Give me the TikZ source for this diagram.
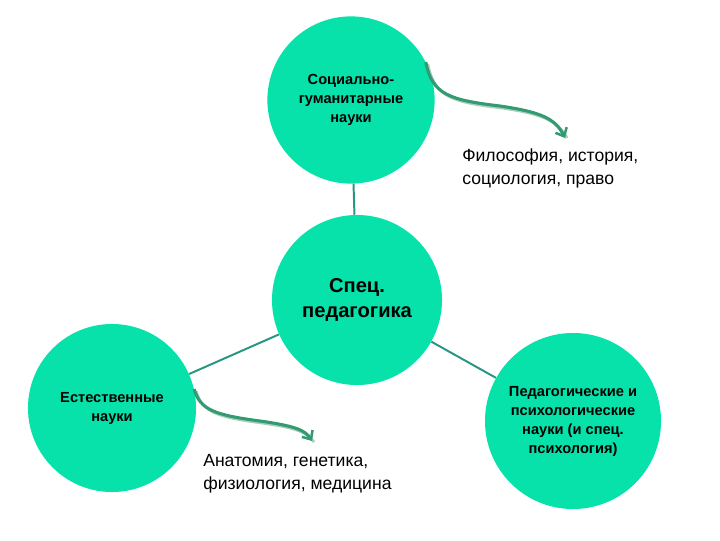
\documentclass[tikz,border=0pt]{standalone}
\usepackage{fontspec}
\setmainfont{Liberation Sans}
\usepackage{tikz}
\usetikzlibrary{arrows.meta}

\definecolor{mint}{RGB}{6,226,170}
\definecolor{linkteal}{RGB}{40,150,130}
\definecolor{arrgreen}{RGB}{50,155,115}
\definecolor{arrshade}{RGB}{170,205,190}

\begin{document}
\begin{tikzpicture}[x=0.025cm,y=-0.025cm,
		disc/.style={circle,fill=mint,inner sep=0pt,align=center,font=\bfseries\fontsize{10.4}{13.5}\selectfont},
		link/.style={linkteal,line width=1.4pt},
		curly/.style={arrgreen,line width=2.2pt,-{Straight Barb[length=5pt,width=9pt,line width=1.8pt]}},
		note/.style={anchor=north west,align=left,inner sep=0pt,font=\fontsize{12.5}{16.4}\selectfont}]
		\useasboundingbox (0,0) rectangle (720,540);
		% the four circles
		\node[disc,minimum size=4.18cm] (soc) at (351,100) {Социально-\\гуманитарные\\науки};
		\node[disc,minimum size=4.25cm,font=\bfseries\fontsize{14.3}{17.8}\selectfont] (ped) at (357,300) {Спец.\\педагогика};
		\node[disc,minimum size=4.2cm] (nat) at (112,408) {Естественные\\науки};
		\node[disc,minimum size=4.4cm] (psy) at (573,421) {Педагогические и\\психологические\\науки (и спец.\\психология)};
		% links to the middle
		\draw[link] (soc) -- (ped);
		\draw[link] (ped) -- (nat);
		\draw[link] (ped) -- (psy);
		% notes
		\node[note] (fil) at (462,148) {Философия, история,\\социология, право};
		\node[note] (ana) at (203,454) {Анатомия, генетика,\\физиология, медицина};
		\coordinate (fil-tip) at (565,138);
		\coordinate (ana-tip) at (312,441);
		% curly arrows, with a pale shadow under them
		\draw[arrshade,line width=2pt] ([shift={(2,2)}]soc.27) .. controls (434,97) and (452,102) .. (502,108) .. controls (542,114) and (557,120) .. (567,138);
		\draw[curly] (soc.27) .. controls (432,95) and (450,100) .. (500,106) .. controls (540,112) and (555,118) .. (fil-tip);
		\draw[arrshade,line width=2pt] ([shift={(2,2)}]nat.13) .. controls (202,412) and (217,417) .. (262,423) .. controls (297,428) and (307,432) .. (314,442);
		\draw[curly] (nat.13) .. controls (200,410) and (215,415) .. (260,421) .. controls (295,426) and (305,430) .. (ana-tip);
	\end{tikzpicture}
\end{document}
